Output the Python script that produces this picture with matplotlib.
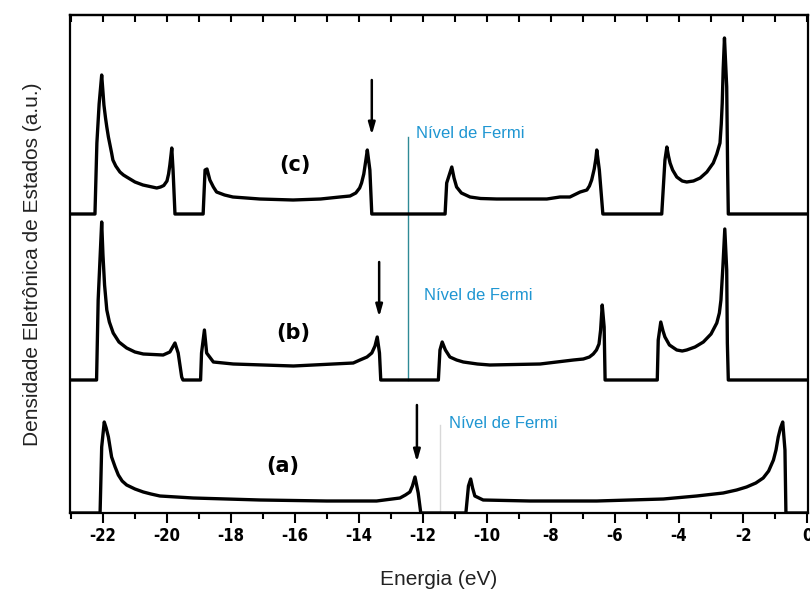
"""
Densidade eletrônica de estados para as três estruturas (a), (b), (c),
com indicação do nível de Fermi.
"""
import matplotlib
matplotlib.use("Agg")
import matplotlib.pyplot as plt
from matplotlib.ticker import MultipleLocator

# ---- dados (energia em eV, DOS em u.a.) ----
E_a = [-23.05, -22.09, -22.04, -21.96, -21.9, -21.83, -21.78, -21.73, -21.62,
       -21.52, -21.4, -21.26, -21.0, -20.74, -20.5, -20.22, -19.18, -17.09,
       -15.01, -13.45, -12.72, -12.55, -12.41, -12.33, -12.25, -12.15, -12.07,
       -10.66, -10.58, -10.51, -10.45, -10.38, -10.12, -8.66, -6.57, -4.49,
       -3.45, -2.62, -2.2, -1.89, -1.6, -1.37, -1.2, -1.05, -0.97, -0.90,
       -0.83, -0.76, -0.69, -0.66, 0.05]
DOS_a = [0, 0, 66, 91, 85, 76, 66, 56, 46, 38, 32, 28, 24, 21, 19, 17, 15, 13,
         12, 12, 15, 18, 21, 27, 36, 20, 0, 0, 27, 34, 25, 17, 13, 12, 12, 14,
         17, 20, 23, 26, 30, 35, 42, 53, 63, 76, 85, 91, 63, 0, 0]

E_b = [-23.05, -22.2, -22.15, -22.04, -22.0, -21.95, -21.88, -21.8, -21.68,
       -21.5, -21.26, -21.0, -20.74, -20.12, -19.91, -19.75, -19.65, -19.54,
       -19.5, -18.95, -18.92, -18.83, -18.76, -18.55, -17.93, -16.05, -14.18,
       -13.97, -13.75, -13.6, -13.5, -13.43, -13.36, -13.32, -11.52, -11.47,
       -11.40, -11.3, -11.16, -10.95, -10.74, -10.3, -9.91, -8.34, -7.3, -6.99,
       -6.8, -6.68, -6.58, -6.5, -6.45, -6.40, -6.34, -6.31, -4.68, -4.65,
       -4.57, -4.5, -4.44, -4.3, -4.07, -3.9, -3.76, -3.5, -3.24, -3.0, -2.82,
       -2.74, -2.69, -2.63, -2.57, -2.51, -2.49, -2.46, 0.05]
DOS_b = [0, 0, 80, 158, 125, 95, 70, 58, 47, 38, 32, 28, 26, 25, 28, 37, 27, 3,
         0, 0, 27, 50, 27, 18, 16, 14, 17, 20, 23, 27, 34, 43, 27, 0, 0, 30, 38,
         30, 23, 20, 18, 16, 15, 16, 20, 21, 23, 26, 30, 36, 50, 75, 53, 0, 0,
         40, 58, 49, 43, 35, 30, 29, 30, 33, 38, 46, 57, 67, 80, 113, 151, 110,
         37, 0, 0]

E_c = [-23.05, -22.25, -22.19, -22.12, -22.04, -22.0, -21.97, -21.92, -21.88,
       -21.83, -21.78, -21.73, -21.69, -21.6, -21.47, -21.36, -21.26, -21.0,
       -20.75, -20.32, -20.2, -20.1, -20.0, -19.95, -19.91, -19.87, -19.85,
       -19.81, -19.75, -18.87, -18.81, -18.75, -18.66, -18.55, -18.45, -18.2,
       -17.94, -17.1, -16.06, -15.2, -14.6, -14.28, -14.1, -13.98, -13.92,
       -13.85, -13.78, -13.74, -13.66, -13.6, -11.31, -11.26, -11.1, -11.03,
       -10.95, -10.8, -10.53, -10.2, -9.7, -8.13, -7.72, -7.41, -7.09, -6.88,
       -6.8, -6.73, -6.65, -6.6, -6.57, -6.49, -6.38, -4.54, -4.44, -4.38,
       -4.33, -4.28, -4.2, -4.07, -3.9, -3.76, -3.55, -3.34, -3.13, -2.93,
       -2.82, -2.72, -2.68, -2.65, -2.62, -2.58, -2.51, -2.48, -2.46, 0.05]
DOS_c = [0, 0, 71, 110, 139, 122, 109, 96, 87, 77, 69, 61, 54, 48, 42, 39, 37,
         32, 29, 26, 27, 28.5, 33, 40, 49, 60, 66, 44, 0, 0, 44, 45, 34, 27, 22,
         19, 17, 15, 14, 15, 17, 18, 21, 26, 31, 40, 55, 64, 44, 0, 0, 31, 47,
         36, 27, 21, 17, 15.5, 15, 15, 17, 17, 22, 24, 28, 34, 45, 55, 64, 44,
         0, 0, 54, 67, 58, 51, 44, 37, 33, 32, 33, 36, 42, 51, 60, 71, 90, 111,
         145, 176, 127, 41, 0, 0]

LABELS = ["(a)", "(b)", "(c)"]
FERMI = [-11.47, -12.47, -12.47]        # nível de Fermi (eV)
ARROW_E = [-12.19, -13.37, -13.6]       # posição das setas (eV)

# deslocamento vertical de cada curva (empilhamento)
OFFSETS = [0, 133, 299]

plt.rcParams["font.family"] = ["Liberation Sans", "DejaVu Sans"]
plt.rcParams["axes.unicode_minus"] = False

fig = plt.figure(figsize=(8.1, 5.89), dpi=100)
ax = fig.add_axes([70 / 810, 76 / 589, 738 / 810, 498 / 589])

for E, D, off in zip([E_a, E_b, E_c], [DOS_a, DOS_b, DOS_c], OFFSETS):
    ax.plot(E, [d + off for d in D], color="black", lw=2.4,
            solid_joinstyle="round", zorder=3)

# rótulos das curvas
for lab, x, y in zip(LABELS, [-16.375, -16.06, -16.0], [47, 180, 348]):
    ax.text(x, y, lab, fontsize=15, fontweight="bold", ha="center",
            va="center", family="DejaVu Sans")

# linhas do nível de Fermi
ax.plot([FERMI[0], FERMI[0]], [0, 88], color="#d8d8d8", lw=1.0, zorder=1)
ax.plot([FERMI[1], FERMI[1]], [133, 376], color="#2f8a96", lw=1.0, zorder=1)

fermi_txt = [(-11.19, 90), (-11.97, 217), (-12.22, 380)]
for x, y in fermi_txt:
    ax.text(x, y, "Nível de Fermi", color="#1f96d2", fontsize=12,
            ha="left", va="center")

# setas
arrow_y = [(108, 51), (251, 196), (433, 378)]
for x, (y0, y1) in zip(ARROW_E, arrow_y):
    ax.annotate("", xy=(x, y1), xytext=(x, y0),
                arrowprops=dict(arrowstyle="-|>,head_length=0.7,head_width=0.2",
                                lw=1.8, color="black", shrinkA=0, shrinkB=0))

ax.set_xlim(-23.03, 0.03)
ax.set_ylim(0, 498)
ax.set_yticks([])
ax.xaxis.set_major_locator(MultipleLocator(2))
ax.xaxis.set_minor_locator(MultipleLocator(1))
ax.tick_params(axis="x", which="major", direction="out", length=7, width=1.5,
               pad=3)
ax.tick_params(axis="x", which="minor", direction="out", length=4, width=1.5)
for lab in ax.get_xticklabels():
    lab.set_family("DejaVu Sans")
    lab.set_stretch("condensed")
    lab.set_fontweight("bold")
    lab.set_fontsize(12)

top = ax.secondary_xaxis("top")
top.xaxis.set_major_locator(MultipleLocator(1))
top.tick_params(direction="in", length=5, width=1.5, labeltop=False)

for side in ["left", "right", "top", "bottom"]:
    ax.spines[side].set_linewidth(1.6)
top.spines["top"].set_linewidth(1.6)

ax.set_xlabel("Energia (eV)", fontsize=15, color="#222222", labelpad=18)
ax.set_ylabel("Densidade Eletrônica de Estados (a.u.)", fontsize=15,
              color="#222222", labelpad=20)

fig.savefig("out.png", dpi=100)
